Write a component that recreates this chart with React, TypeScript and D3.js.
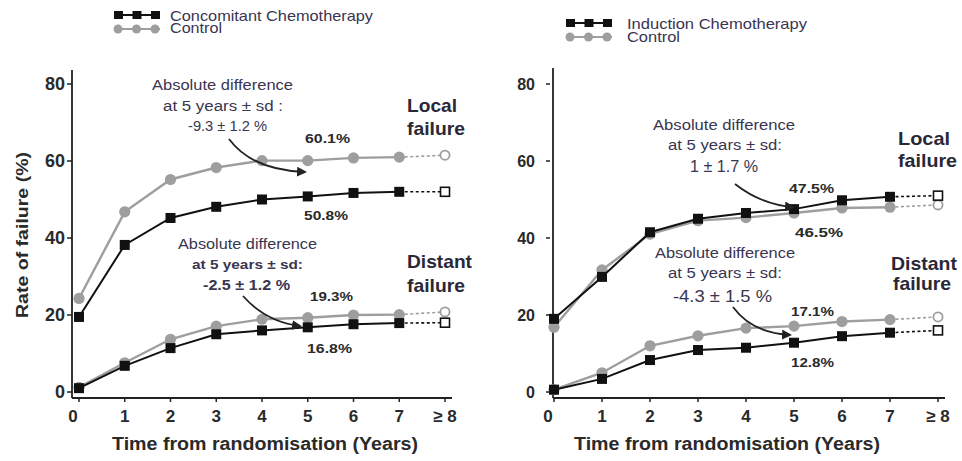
import React from "react";
import * as d3 from "d3";

const xTickLabels = ["0", "1", "2", "3", "4", "5", "6", "7", "≥ 8"];
const yTicks = [0, 20, 40, 60, 80];
const years = [0, 1, 2, 3, 4, 5, 6, 7, 8];

// Left panel: concomitant chemotherapy
const leftLocalChemo = [19.5, 38.2, 45.2, 48.1, 50.0, 50.8, 51.7, 52.0, 52.0];
const leftLocalControl = [24.3, 46.8, 55.2, 58.3, 60.1, 60.1, 60.8, 61.0, 61.5];
const leftDistantChemo = [1.0, 6.8, 11.4, 15.0, 16.0, 16.8, 17.6, 17.9, 18.0];
const leftDistantControl = [1.2, 7.6, 13.7, 17.1, 18.9, 19.3, 20.0, 20.1, 20.8];

// Right panel: induction chemotherapy
const rightLocalChemo = [19.0, 29.9, 41.5, 45.0, 46.5, 47.5, 49.8, 50.7, 51.0];
const rightLocalControl = [16.8, 31.7, 41.0, 44.5, 45.3, 46.5, 47.8, 48.0, 48.6];
const rightDistantChemo = [0.6, 3.4, 8.3, 10.9, 11.5, 12.8, 14.5, 15.4, 16.0];
const rightDistantControl = [0.6, 5.0, 12.0, 14.6, 16.6, 17.1, 18.3, 18.8, 19.5];

const TXT = "#2a2a2a";
const BLACK = "#111";
const GRAY = "#9e9e9e";
const PURP = "#3a3550";
const FONT = "'Liberation Sans', Arial, sans-serif";

type T = { text: string; x: number; y: number; w: number; size?: number; bold?: boolean };

type PanelProps = {
  x0: number; x1: number; axisX: number; axisTop: number; axisRight: number;
  yTickX1: number; yTickX2: number; yLabelRight: number; yLabelSize: number;
  chemo: number[][]; control: number[][];
  legendX: number; legendY: number; legendTexts: T[];
  annTexts: T[];
  arrows: [number, number, number, number, number, number][];
  pct: T[];
  titles: T[];
  xTitle: T;
  showYTitle: boolean;
};

function Series({ vals, x, y, color, kind }: { vals: number[]; x: any; y: any; color: string; kind: "sq" | "ci" }) {
  const line = d3.line<number>().x((_, i) => x(years[i])).y((d) => y(d));
  const solid = vals.slice(0, 8);
  return (
    <g>
      <path d={line(solid) || ""} fill="none" stroke={color} strokeWidth={kind === "ci" ? 2.4 : 2} />
      <path
        d={line([vals[7], vals[8]].map((v) => v)) ? `M${x(7)},${y(vals[7])}L${x(8)},${y(vals[8])}` : ""}
        fill="none" stroke={color} strokeWidth={1.6} strokeDasharray="3,2.5"
      />
      {vals.map((v, i) => {
        const open = i === 8;
        const cx = x(years[i]);
        const cy = y(v);
        if (kind === "sq") {
          const s = open ? 9 : 10;
          return (
            <rect key={i} x={cx - s / 2} y={cy - s / 2} width={s} height={s}
              fill={open ? "#fff" : color} stroke={color} strokeWidth={open ? 1.6 : 0} />
          );
        }
        return (
          <circle key={i} cx={cx} cy={cy} r={open ? 4.6 : 5.6}
            fill={open ? "#fff" : color} stroke={color} strokeWidth={open ? 1.8 : 0} />
        );
      })}
    </g>
  );
}

function Txt({ t, fill, anchor = "start" }: { t: T; fill: string; anchor?: string }) {
  return (
    <text x={t.x} y={t.y} fontSize={t.size ?? 14} fontWeight={t.bold ? "bold" : "normal"} fill={fill}
      textLength={t.w} lengthAdjust="spacingAndGlyphs" textAnchor={anchor as any}>{t.text}</text>
  );
}

function Panel(p: PanelProps) {
  const x = d3.scaleLinear().domain([0, 8]).range([p.x0, p.x1]);
  const y = d3.scaleLinear().domain([0, 80]).range([392, 84]);
  const axisBottom = 398;
  const lx = p.legendX;
  const ly = p.legendY;
  return (
    <g fontFamily={FONT}>
      {/* legend */}
      <g>
        <line x1={lx} x2={lx + 46} y1={ly} y2={ly} stroke={BLACK} strokeWidth={2} />
        {[0, 1, 2].map((k) => (
          <rect key={k} x={lx + k * 18.5} y={ly - 4} width={9} height={8} fill={BLACK} />
        ))}
        <line x1={lx} x2={lx + 46} y1={ly + 14} y2={ly + 14} stroke={GRAY} strokeWidth={2} />
        {[0, 1, 2].map((k) => (
          <circle key={k} cx={lx + 4 + k * 18.5} cy={ly + 14} r={4.5} fill={GRAY} />
        ))}
        {p.legendTexts.map((t, k) => <Txt key={k} t={t} fill={PURP} />)}
      </g>

      {/* axes */}
      <line x1={p.axisX} x2={p.axisX} y1={p.axisTop} y2={axisBottom} stroke="#222" strokeWidth={1.8} />
      <line x1={p.axisX} x2={p.axisRight} y1={axisBottom} y2={axisBottom} stroke="#222" strokeWidth={1.8} />
      {yTicks.map((t) => (
        <g key={t}>
          <line x1={p.yTickX1} x2={p.yTickX2} y1={y(t)} y2={y(t)} stroke="#222" strokeWidth={1.5} />
          <text x={p.yLabelRight} y={y(t)} dy="0.36em" textAnchor="end" fontSize={p.yLabelSize} fontWeight="bold" fill={TXT}>{t}</text>
        </g>
      ))}
      {xTickLabels.map((t, i) => (
        <g key={t}>
          <line x1={x(years[i])} x2={x(years[i])} y1={axisBottom} y2={axisBottom + 4} stroke="#222" strokeWidth={1.5} />
          <text x={x(years[i]) - (i === 0 ? 6 : 0)} y={422} textAnchor="middle" fontSize={17} fontWeight="bold" fill={TXT}>{t}</text>
        </g>
      ))}
      <Txt t={p.xTitle} fill={TXT} />
      {p.showYTitle && (
        <text transform={`translate(28,235) rotate(-90)`} textAnchor="middle" fontSize={16} fontWeight="bold" fill={TXT}
          textLength={166} lengthAdjust="spacingAndGlyphs">
          Rate of failure (%)
        </text>
      )}

      {/* series */}
      <Series vals={p.control[0]} x={x} y={y} color={GRAY} kind="ci" />
      <Series vals={p.chemo[0]} x={x} y={y} color={BLACK} kind="sq" />
      <Series vals={p.control[1]} x={x} y={y} color={GRAY} kind="ci" />
      <Series vals={p.chemo[1]} x={x} y={y} color={BLACK} kind="sq" />

      {/* annotations */}
      {p.annTexts.map((t, k) => <Txt key={k} t={t} fill={PURP} />)}
      {p.arrows.map((a, k) => (
        <path key={k}
          d={`M${a[0]},${a[1]}Q${a[2]},${a[3]} ${a[4]},${a[5]}`}
          fill="none" stroke="#222" strokeWidth={1.8} markerEnd="url(#arrowhead)"
        />
      ))}
      {p.pct.map((t, k) => <Txt key={k} t={t} fill={TXT} />)}
      {p.titles.map((t, k) => <Txt key={k} t={t} fill="#2a2838" />)}
    </g>
  );
}

export default function App() {
  return (
    <svg width={962} height={461} style={{ position: "absolute", left: 0, top: 0, background: "#fff" }}>
      <defs>
        <marker id="arrowhead" viewBox="0 0 10 10" refX="8" refY="5" markerWidth="5.5" markerHeight="5.5" orient="auto">
          <path d="M0,0L10,5L0,10z" fill="#222" />
        </marker>
      </defs>
      <rect width={962} height={461} fill="#fff" />
      <Panel
        x0={79} x1={445} axisX={72} axisTop={70} axisRight={452}
        yTickX1={67} yTickX2={72} yLabelRight={65} yLabelSize={18}
        chemo={[leftLocalChemo, leftDistantChemo]}
        control={[leftLocalControl, leftDistantControl]}
        legendX={114} legendY={15}
        legendTexts={[
          { text: "Concomitant Chemotherapy", x: 170, y: 21, w: 203, size: 15 },
          { text: "Control", x: 170, y: 33, w: 52, size: 15 },
        ]}
        showYTitle={true}
        annTexts={[
          { text: "Absolute difference", x: 152, y: 90, w: 141 },
          { text: "at 5 years ± sd :", x: 163, y: 111, w: 120 },
          { text: "-9.3 ± 1.2 %", x: 188, y: 131, w: 79 },
          { text: "Absolute difference", x: 178, y: 249, w: 139 },
          { text: "at 5 years ± sd:", x: 192, y: 269, w: 111, bold: true, size: 13.5 },
          { text: "-2.5 ± 1.2 %", x: 203, y: 290, w: 87, bold: true, size: 14 },
        ]}
        arrows={[
          [229, 139, 252, 170, 305, 172],
          [243, 296, 266, 322, 300, 326],
        ]}
        pct={[
          { text: "60.1%", x: 305, y: 143, w: 45, size: 13, bold: true },
          { text: "50.8%", x: 304, y: 220, w: 44, size: 13, bold: true },
          { text: "19.3%", x: 310, y: 301, w: 43, size: 13, bold: true },
          { text: "16.8%", x: 307, y: 353, w: 45, size: 13, bold: true },
        ]}
        titles={[
          { text: "Local", x: 407, y: 112, w: 50, size: 19, bold: true },
          { text: "failure", x: 407, y: 135, w: 58, size: 19, bold: true },
          { text: "Distant", x: 407, y: 268, w: 65, size: 19, bold: true },
          { text: "failure", x: 407, y: 292, w: 58, size: 19, bold: true },
        ]}
        xTitle={{ text: "Time from randomisation (Years)", x: 112, y: 450, w: 306, size: 18, bold: true }}
      />
      <Panel
        x0={554} x1={938} axisX={553} axisTop={68} axisRight={945}
        yTickX1={546} yTickX2={550} yLabelRight={535} yLabelSize={16}
        chemo={[rightLocalChemo, rightDistantChemo]}
        control={[rightLocalControl, rightDistantControl]}
        legendX={566} legendY={23}
        legendTexts={[
          { text: "Induction Chemotherapy", x: 627, y: 29, w: 180, size: 15 },
          { text: "Control", x: 627, y: 42, w: 53, size: 15 },
        ]}
        showYTitle={false}
        annTexts={[
          { text: "Absolute difference", x: 653, y: 130, w: 142 },
          { text: "at 5 years ± sd:", x: 668, y: 150, w: 114 },
          { text: "1 ± 1.7 %", x: 690, y: 172, w: 68, size: 16 },
          { text: "Absolute difference", x: 655, y: 258, w: 140 },
          { text: "at 5 years ± sd:", x: 668, y: 278, w: 114 },
          { text: "-4.3 ± 1.5 %", x: 673, y: 302, w: 99, size: 17 },
        ]}
        arrows={[
          [735, 184, 762, 205, 793, 207],
          [733, 307, 752, 333, 790, 335],
        ]}
        pct={[
          { text: "47.5%", x: 789, y: 193, w: 45, size: 13, bold: true },
          { text: "46.5%", x: 795, y: 237, w: 48, size: 13, bold: true },
          { text: "17.1%", x: 791, y: 316, w: 43, size: 13, bold: true },
          { text: "12.8%", x: 791, y: 367, w: 43, size: 13, bold: true },
        ]}
        titles={[
          { text: "Local", x: 898, y: 145, w: 52, size: 19, bold: true },
          { text: "failure", x: 898, y: 167, w: 59, size: 19, bold: true },
          { text: "Distant", x: 891, y: 270, w: 66, size: 19, bold: true },
          { text: "failure", x: 893, y: 290, w: 58, size: 19, bold: true },
        ]}
        xTitle={{ text: "Time from randomisation (Years)", x: 574, y: 450, w: 306, size: 18, bold: true }}
      />
    </svg>
  );
}
